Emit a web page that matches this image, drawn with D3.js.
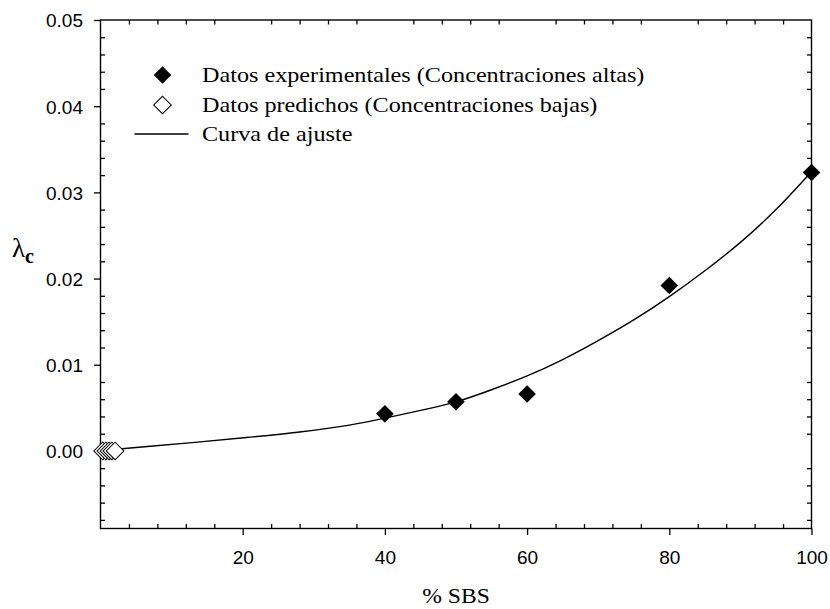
<!DOCTYPE html>
<html>
<head>
<meta charset="utf-8">
<script src="https://cdn.jsdelivr.net/npm/d3@7"></script>
<style>
  html, body { margin: 0; padding: 0; background: #fff; }
  svg { display: block; }
</style>
</head>
<body>
<svg id="chart" width="830" height="609"></svg>
<script>
// % SBS of the experimental (high concentration) samples and their λc
const expX = [40, 50, 60, 80, 100];
const expY = [0.0043, 0.0057, 0.0066, 0.0192, 0.0323];

// predicted points at very low concentrations
const predX = [0.3, 0.75, 1.2, 1.6, 2.05];
const predY = [0.0, 0.0, 0.0, 0.0, 0.0];

// fitted curve, sampled along % SBS
const fitX = [0, 3, 7, 14, 21, 28, 35, 40, 45, 50, 55, 60, 65, 70, 75, 80, 85, 90, 95, 100];
const fitY = [0.00005, 0.00025, 0.00055, 0.00105, 0.0016, 0.0022, 0.0030, 0.0038, 0.0047, 0.0057, 0.0071, 0.0087, 0.0106, 0.0128, 0.0152, 0.0179, 0.0209, 0.0242, 0.0280, 0.0324];

const xMajor = [20, 40, 60, 80, 100];
const xMinor = [4, 8, 12, 16, 24, 28, 32, 36, 44, 48, 52, 56, 64, 68, 72, 76, 84, 88, 92, 96];
const yMajor = [0.00, 0.01, 0.02, 0.03, 0.04, 0.05];
const yMinor = [-0.008, -0.006, -0.004, -0.002, 0.002, 0.004, 0.006, 0.008,
                0.012, 0.014, 0.016, 0.018, 0.022, 0.024, 0.026, 0.028,
                0.032, 0.034, 0.036, 0.038, 0.042, 0.044, 0.046, 0.048];

const legendLabels = [
  "Datos experimentales (Concentraciones altas)",
  "Datos predichos (Concentraciones bajas)",
  "Curva de ajuste"
];

const svg = d3.select("#chart");
const plotL = 100.5, plotR = 811.5, plotT = 20, plotB = 528.5;

const x = d3.scaleLinear().domain([0, 100]).range([plotL, plotR]);
const y = d3.scaleLinear().domain([-0.009, 0.05]).range([plotB, plotT]);

const tickFont = "'Liberation Sans', Arial, sans-serif";
const serif = "'Liberation Serif', 'Times New Roman', serif";
const serifStretch = 1.18; // serif captions are set slightly wide

// frame
svg.append("rect")
  .attr("x", plotL).attr("y", plotT)
  .attr("width", plotR - plotL).attr("height", plotB - plotT)
  .attr("fill", "none").attr("stroke", "#000").attr("stroke-width", 1.4);

function styleAxis(g, labelSize) {
  g.select(".domain").remove();
  g.selectAll(".tick line").attr("stroke", "#000").attr("stroke-width", 1.3);
  g.selectAll(".tick text")
    .attr("fill", "#000")
    .style("font-family", tickFont)
    .style("font-size", labelSize + "px");
}

// left axis: labelled major ticks outside, minor ticks inside
const gyMaj = svg.append("g").attr("transform", `translate(${plotL},0)`)
  .call(d3.axisLeft(y).tickValues(yMajor).tickFormat(d3.format(".2f")).tickSize(6.5).tickPadding(11));
styleAxis(gyMaj, 19);
gyMaj.selectAll(".tick text").attr("dy", "0.36em");

const gyMin = svg.append("g").attr("transform", `translate(${plotL},0)`)
  .call(d3.axisLeft(y).tickValues(yMinor).tickFormat("").tickSize(-4.5));
styleAxis(gyMin, 19);

// right axis: minor ticks only, pointing in
const gyR = svg.append("g").attr("transform", `translate(${plotR},0)`)
  .call(d3.axisRight(y).tickValues(yMinor).tickFormat("").tickSize(-4.5));
styleAxis(gyR, 19);

// bottom axis
const gxMaj = svg.append("g").attr("transform", `translate(0,${plotB})`)
  .call(d3.axisBottom(x).tickValues(xMajor).tickFormat(d3.format("d")).tickSize(6.5).tickPadding(16));
styleAxis(gxMaj, 19);

const gxMin = svg.append("g").attr("transform", `translate(0,${plotB})`)
  .call(d3.axisBottom(x).tickValues(xMinor).tickFormat("").tickSize(-4.5));
styleAxis(gxMin, 19);

// top axis: minor ticks only, pointing in
const gxT = svg.append("g").attr("transform", `translate(0,${plotT})`)
  .call(d3.axisTop(x).tickValues(xMinor).tickFormat("").tickSize(-4.5));
styleAxis(gxT, 19);

// axis titles
svg.append("text")
  .attr("transform", `translate(${(plotL + plotR) / 2},603) scale(${serifStretch},1)`)
  .attr("text-anchor", "middle")
  .style("font-family", serif).style("font-size", "20px")
  .text("% SBS");

const yTitle = svg.append("text")
  .attr("x", 12).attr("y", 257)
  .style("font-family", serif);
yTitle.append("tspan").style("font-size", "27px").text("λ");
yTitle.append("tspan").attr("dy", 6).style("font-size", "20px").style("font-weight", "bold").text("c");

// fitted curve
const line = d3.line()
  .x((d, i) => x(fitX[i]))
  .y((d, i) => y(fitY[i]))
  .curve(d3.curveNatural);

svg.append("path")
  .datum(fitX)
  .attr("d", line)
  .attr("fill", "none")
  .attr("stroke", "#000")
  .attr("stroke-width", 1.4);

const diamond = d3.symbol().type(d3.symbolSquare).size(155);

// predicted (open) diamonds
svg.append("g").selectAll("path")
  .data(predX)
  .join("path")
  .attr("d", diamond)
  .attr("transform", (d, i) => `translate(${x(d)},${y(predY[i])}) rotate(45)`)
  .attr("fill", "#fff")
  .attr("stroke", "#000")
  .attr("stroke-width", 1);

// experimental (filled) diamonds
svg.append("g").selectAll("path")
  .data(expX)
  .join("path")
  .attr("d", diamond)
  .attr("transform", (d, i) => `translate(${x(d)},${y(expY[i])}) rotate(45)`)
  .attr("fill", "#000");

// legend
const lg = svg.append("g");
const legendRows = [75, 105, 134];
lg.append("path").attr("d", diamond)
  .attr("transform", `translate(162.5,${legendRows[0]}) rotate(45)`)
  .attr("fill", "#000");
lg.append("path").attr("d", diamond)
  .attr("transform", `translate(162.5,${legendRows[1]}) rotate(45)`)
  .attr("fill", "#fff").attr("stroke", "#000").attr("stroke-width", 1);
lg.append("line")
  .attr("x1", 134.5).attr("x2", 188.5)
  .attr("y1", legendRows[2]).attr("y2", legendRows[2])
  .attr("stroke", "#000").attr("stroke-width", 1.4);
lg.selectAll("text")
  .data(legendLabels)
  .join("text")
  .attr("transform", (d, i) => `translate(202,${legendRows[i] + 7}) scale(${serifStretch},1)`)
  .style("font-family", serif)
  .style("font-size", "20.5px")
  .text(d => d);
</script>
</body>
</html>
